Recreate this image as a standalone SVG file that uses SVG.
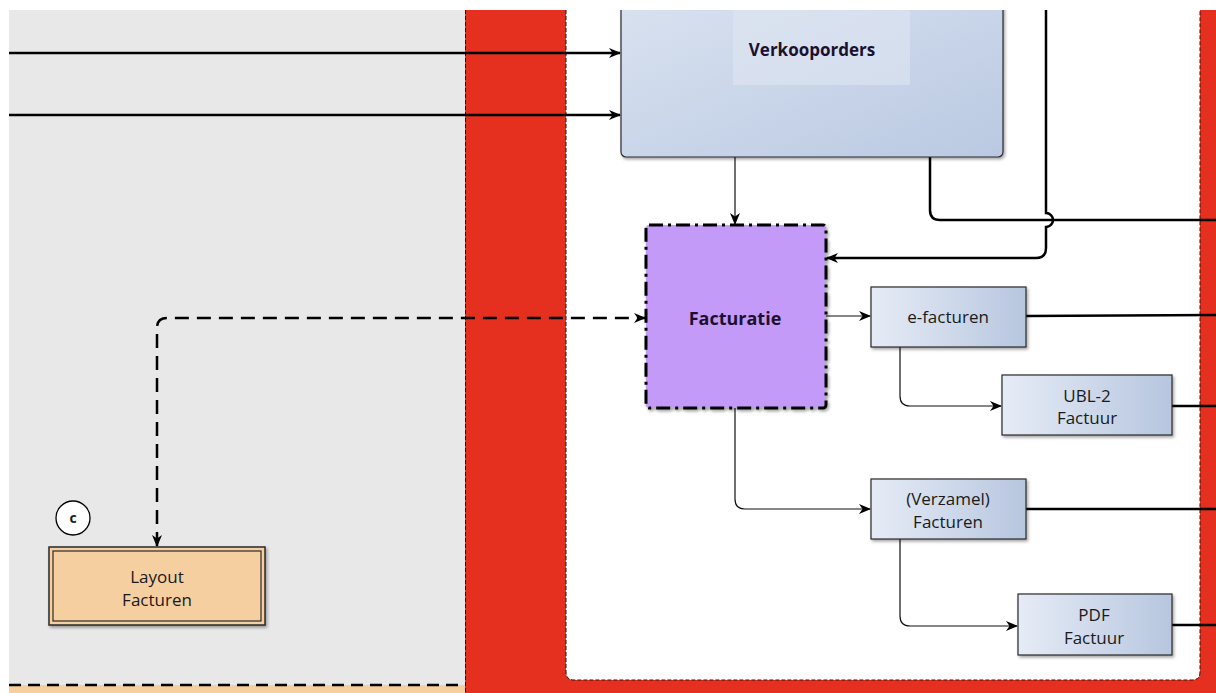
<svg xmlns="http://www.w3.org/2000/svg" width="1216" height="693" viewBox="0 0 1216 693">
<defs>
<style>
.lbl{font-family:"Open Sans","Noto Sans","DejaVu Sans",sans-serif;font-size:17px;fill:#1a1a1a;text-anchor:middle}
.bold{font-weight:bold;fill:#1c1030}
.thick{fill:none;stroke:#000;stroke-width:2.5}
.thin{fill:none;stroke:#111;stroke-width:1.2}
.box{stroke:#2a2a2a;stroke-width:1.2;fill:url(#blueg);filter:url(#sh)}
</style>
<linearGradient id="blueg" x1="0" y1="0" x2="1" y2="0">
<stop offset="0" stop-color="#e6ecf6"/>
<stop offset="1" stop-color="#b7c6df"/>
</linearGradient>
<linearGradient id="vkg" x1="0" y1="0" x2="1" y2="1">
<stop offset="0" stop-color="#d9e2f0"/>
<stop offset="1" stop-color="#bac9e2"/>
</linearGradient>
<filter id="sh" x="-10%" y="-10%" width="130%" height="130%">
<feDropShadow dx="1.5" dy="2" stdDeviation="1.5" flood-color="#000" flood-opacity="0.35"/>
</filter>
<marker id="ah" markerWidth="12" markerHeight="10" refX="11" refY="5" orient="auto" markerUnits="userSpaceOnUse">
<path d="M0,0 L12,5 L0,10 L3.5,5 z" fill="#000"/>
</marker>
<marker id="ahs" markerWidth="12" markerHeight="10" refX="11" refY="5" orient="auto-start-reverse" markerUnits="userSpaceOnUse">
<path d="M0,0 L12,5 L0,10 L3.5,5 z" fill="#000"/>
</marker>
</defs>
<rect width="1216" height="693" fill="#fff"/>
<g id="background">
<rect x="9" y="10" width="456" height="683" fill="#e8e8e8"/>
<rect x="9" y="685" width="456" height="8" fill="#f5cfa0"/>
<line x1="9" y1="685" x2="465" y2="685" stroke="#000" stroke-width="2.5" stroke-dasharray="12,7"/>
<rect x="465" y="10" width="751" height="683" fill="#e5301f"/>
<line x1="465.5" y1="10" x2="465.5" y2="693" stroke="#3a0a05" stroke-width="1" stroke-dasharray="4,2"/>
<path d="M566,10 V672 Q566,680 574,680 H1192 Q1200,680 1200,672 V10" fill="#fff" stroke="#3a0a05" stroke-width="1" stroke-dasharray="4,2"/>
</g>
<g id="connectors">
<line class="thick" x1="9" y1="53" x2="620" y2="53" marker-end="url(#ah)"/>
<line class="thick" x1="9" y1="115" x2="620" y2="115" marker-end="url(#ah)"/>
<line class="thin" x1="735" y1="157" x2="735" y2="224" marker-end="url(#ah)"/>
<path class="thick" d="M930,157 V210 Q930,220 940,220 H1216"/>
<path class="thick" d="M1046,10 V213 A7,7 0 0 1 1046,227 V248 Q1046,258 1036,258 H827" marker-end="url(#ah)"/>
<path class="thick" stroke-dasharray="14,8" d="M157,546 V328 Q157,318 167,318 H645" marker-start="url(#ahs)" marker-end="url(#ah)"/>
<line class="thin" x1="826" y1="316" x2="870" y2="316" marker-end="url(#ah)"/>
<line class="thick" x1="1026" y1="316" x2="1216" y2="315"/>
<path class="thin" d="M900,347 V396 Q900,406 910,406 H1001" marker-end="url(#ah)"/>
<line class="thick" x1="1172" y1="406" x2="1216" y2="406"/>
<path class="thin" d="M735,408 V499 Q735,509 745,509 H870" marker-end="url(#ah)"/>
<line class="thick" x1="1026" y1="509" x2="1216" y2="509"/>
<path class="thin" d="M900,539 V616 Q900,626 910,626 H1017" marker-end="url(#ah)"/>
<line class="thick" x1="1172" y1="625" x2="1216" y2="625"/>
</g>
<g id="verkooporders">
<rect x="621" y="-6" width="382" height="163" rx="5" fill="url(#vkg)" stroke="#2a2a2a" stroke-width="1.2" filter="url(#sh)"/>
<rect x="733" y="10" width="177" height="75" fill="#dfe6f2" opacity="0.6"/>
<text class="lbl bold" x="812" y="56">Verkooporders</text>
</g>
<rect id="top-margin" x="0" y="0" width="1216" height="10" fill="#fff"/>
<g id="facturatie">
<rect x="646" y="225" width="180" height="183" rx="3" fill="#c39af8" stroke="#000" stroke-width="3" stroke-dasharray="14,5,3,5" filter="url(#sh)"/>
<text class="lbl bold" x="735" y="325" style="font-size:18px">Facturatie</text>
</g>
<g id="e-facturen">
<rect class="box" x="871" y="287" width="155" height="60"/>
<text class="lbl" x="948" y="323">e-facturen</text>
</g>
<g id="ubl2">
<rect class="box" x="1002" y="375" width="170" height="60"/>
<text class="lbl" x="1087" y="402">UBL-2</text>
<text class="lbl" x="1087" y="424">Factuur</text>
</g>
<g id="verzamel">
<rect class="box" x="871" y="479" width="155" height="60"/>
<text class="lbl" x="948" y="505">(Verzamel)</text>
<text class="lbl" x="948" y="528">Facturen</text>
</g>
<g id="pdf">
<rect class="box" x="1018" y="594" width="154" height="61"/>
<text class="lbl" x="1094" y="621">PDF</text>
<text class="lbl" x="1094" y="644">Factuur</text>
</g>
<g id="layout">
<rect x="49" y="547" width="216" height="78" fill="#f5cfa0" stroke="#2a2a2a" stroke-width="1.5" filter="url(#sh)"/>
<rect x="53" y="551" width="208" height="70" fill="none" stroke="#2a2a2a" stroke-width="1.2"/>
<text class="lbl" x="157" y="583">Layout</text>
<text class="lbl" x="157" y="606">Facturen</text>
</g>
<g id="marker-c">
<circle cx="73" cy="518" r="17" fill="#fff" stroke="#000" stroke-width="1.3"/>
<text class="lbl" x="73" y="523" style="font-size:14px;font-weight:bold">c</text>
</g>
</svg>
